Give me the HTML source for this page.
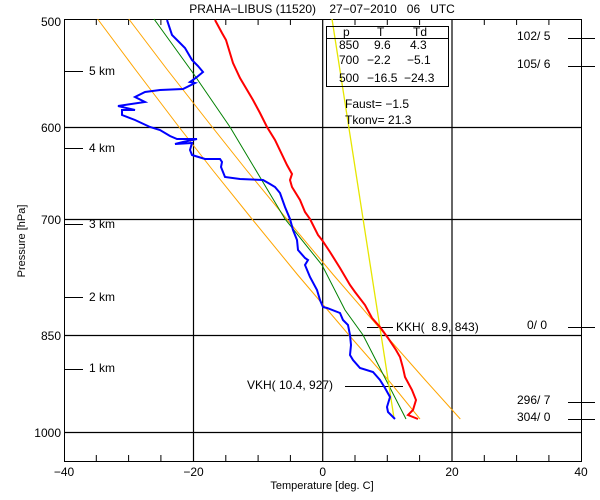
<!DOCTYPE html>
<html><head><meta charset="utf-8"><style>
html,body{margin:0;padding:0;background:#fff}
svg{display:block}
text{font-family:"Liberation Sans",sans-serif;font-size:12px;fill:#000;white-space:pre}
</style></head><body>
<svg width="600" height="500" viewBox="0 0 600 500" xmlns="http://www.w3.org/2000/svg" xml:space="preserve">
<rect width="600" height="500" fill="#fff"/>
<rect x="64.5" y="19.5" width="517" height="442" fill="none" stroke="#000" stroke-width="1"/>
<g stroke="#000" stroke-width="1.2">
<line x1="193.5" y1="19" x2="193.5" y2="462"/>
<line x1="322.7" y1="19" x2="322.7" y2="462"/>
<line x1="452" y1="19" x2="452" y2="462"/>
<line x1="64" y1="127.5" x2="582" y2="127.5"/>
<line x1="64" y1="219.5" x2="582" y2="219.5"/>
<line x1="64" y1="335.5" x2="582" y2="335.5"/>
<line x1="64" y1="432.5" x2="582" y2="432.5"/>
</g>
<g stroke="#000" stroke-width="1">
<line x1="96.3" y1="19" x2="96.3" y2="25"/><line x1="128.6" y1="19" x2="128.6" y2="25"/><line x1="160.9" y1="19" x2="160.9" y2="25"/>
<line x1="225.8" y1="19" x2="225.8" y2="25"/><line x1="258.1" y1="19" x2="258.1" y2="25"/><line x1="290.4" y1="19" x2="290.4" y2="25"/>
<line x1="355" y1="19" x2="355" y2="25"/><line x1="387.3" y1="19" x2="387.3" y2="25"/><line x1="419.6" y1="19" x2="419.6" y2="25"/>
<line x1="484.3" y1="19" x2="484.3" y2="25"/><line x1="516.6" y1="19" x2="516.6" y2="25"/><line x1="548.9" y1="19" x2="548.9" y2="25"/>
<line x1="96.3" y1="455" x2="96.3" y2="462"/><line x1="128.6" y1="455" x2="128.6" y2="462"/><line x1="160.9" y1="455" x2="160.9" y2="462"/>
<line x1="225.8" y1="455" x2="225.8" y2="462"/><line x1="258.1" y1="455" x2="258.1" y2="462"/><line x1="290.4" y1="455" x2="290.4" y2="462"/>
<line x1="355" y1="455" x2="355" y2="462"/><line x1="387.3" y1="455" x2="387.3" y2="462"/><line x1="419.6" y1="455" x2="419.6" y2="462"/>
<line x1="484.3" y1="455" x2="484.3" y2="462"/><line x1="516.6" y1="455" x2="516.6" y2="462"/><line x1="548.9" y1="455" x2="548.9" y2="462"/>
<line x1="65" y1="71.5" x2="83" y2="71.5"/>
<line x1="65" y1="148.5" x2="83" y2="148.5"/>
<line x1="65" y1="224.5" x2="83" y2="224.5"/>
<line x1="65" y1="297.5" x2="83" y2="297.5"/>
<line x1="65" y1="369.5" x2="83" y2="369.5"/>
<line x1="568" y1="38.5" x2="595" y2="38.5"/>
<line x1="568" y1="66.5" x2="595" y2="66.5"/>
<line x1="568" y1="327.5" x2="595" y2="327.5"/>
<line x1="568" y1="402.5" x2="595" y2="402.5"/>
<line x1="568" y1="419.5" x2="595" y2="419.5"/>
<line x1="367" y1="327.5" x2="393" y2="327.5"/>
<line x1="345" y1="386.5" x2="403" y2="386.5"/>
</g>
<polyline fill="none" stroke="#ffa500" stroke-width="1" points="128.8,19 167.5,70 212.2,127 246.4,170 286.7,219 333.5,275 385.5,335 425.2,380 460.3,419"/>
<polyline fill="none" stroke="#ffa500" stroke-width="1" points="97.6,19 135.7,70 179,127 212.6,170 252,219 297.8,275 348.9,335 388.3,380 420,419"/>
<polyline fill="none" stroke="#008000" stroke-width="1" points="154,19 193,73 230,127 285,219 322,265 345,310 363,335 406,419"/>
<line x1="332" y1="19" x2="394" y2="418" stroke="#e6e600" stroke-width="1.3"/>
<polyline fill="none" stroke="#ff0000" stroke-width="2" points="215,20 222,33 226,40 233,63 240,78 253,100 260,113 267,127 275,140 287,165 292,174 290,180 292,187 300,200 305,212 310,219 318,235 322,240 330,252 340,268 350,285 355,292 365,305 372,318 380,327 388,338 396,350 400,357 403,368 405,377 412,390 416,400 413,410 408,415 418,419"/>
<polyline fill="none" stroke="#0000ff" stroke-width="2" points="167,20 172,35 180,43 185,48 192,60 198,66 203,72 197,77 190,82 195,83 183,89 160,90 145,92 135,97 145,102 118,106 135,110 122,110 122,115 135,120 150,127 160,130 170,136 177,139 197,139 183,142 175,144 192,143 190,150 192,155 205,159 220,159 222,162 221,167 225,177 240,179 263,180 270,184 275,187 280,193 285,207 290,219 293,230 297,240 298,250 305,258 308,260 305,265 310,277 317,290 320,300 323,307 327,308 340,313 343,320 348,325 350,335 351,345 350,355 353,360 360,368 373,372 380,380 385,388 390,397 387,407 388,412 395,419"/>
<rect x="326.5" y="26.5" width="122" height="60" fill="none" stroke="#000" stroke-width="1"/>
<line x1="326" y1="38.5" x2="449" y2="38.5" stroke="#000"/>
<g style="font-size:10px">
<text x="343" y="36">p</text><text x="377" y="36">T</text><text x="413" y="36">Td</text>
<text x="339" y="49">850</text><text x="374" y="49">9.6</text><text x="410" y="49">4.3</text>
<text x="339" y="64">700</text><text x="367" y="64">−2.2</text><text x="407" y="64">−5.1</text>
<text x="339" y="82">500</text><text x="367" y="82">−16.5</text><text x="404" y="82">−24.3</text>
</g>
<text x="345" y="108">Faust= −1.5</text>
<text x="345" y="124">Tkonv= 21.3</text>
<text x="322" y="13" text-anchor="middle">PRAHA−LIBUS (11520)    27−07−2010   06   UTC</text>
<text x="89" y="75">5 km</text><text x="89" y="152">4 km</text><text x="89" y="228">3 km</text><text x="89" y="301">2 km</text><text x="89" y="372">1 km</text>
<text x="61" y="26" text-anchor="end">500</text>
<text x="61" y="132" text-anchor="end">600</text>
<text x="61" y="224" text-anchor="end">700</text>
<text x="61" y="340" text-anchor="end">850</text>
<text x="61" y="437" text-anchor="end">1000</text>
<text x="64" y="476" text-anchor="middle">−40</text>
<text x="193.5" y="476" text-anchor="middle">−20</text>
<text x="322.7" y="476" text-anchor="middle">0</text>
<text x="452" y="476" text-anchor="middle">20</text>
<text x="581" y="476" text-anchor="middle">40</text>
<text x="322" y="489" text-anchor="middle" style="font-size:11px">Temperature [deg. C]</text>
<text transform="translate(25,241) rotate(-90)" text-anchor="middle" style="font-size:11px">Pressure [hPa]</text>
<text x="396" y="331">KKH(  8.9, 843)</text>
<text x="247" y="389">VKH( 10.4, 927)</text>
<text x="517" y="40">102/ 5</text>
<text x="517" y="68">105/ 6</text>
<text x="527" y="329">0/ 0</text>
<text x="517" y="404">296/ 7</text>
<text x="517" y="421">304/ 0</text>
</svg>
</body></html>
